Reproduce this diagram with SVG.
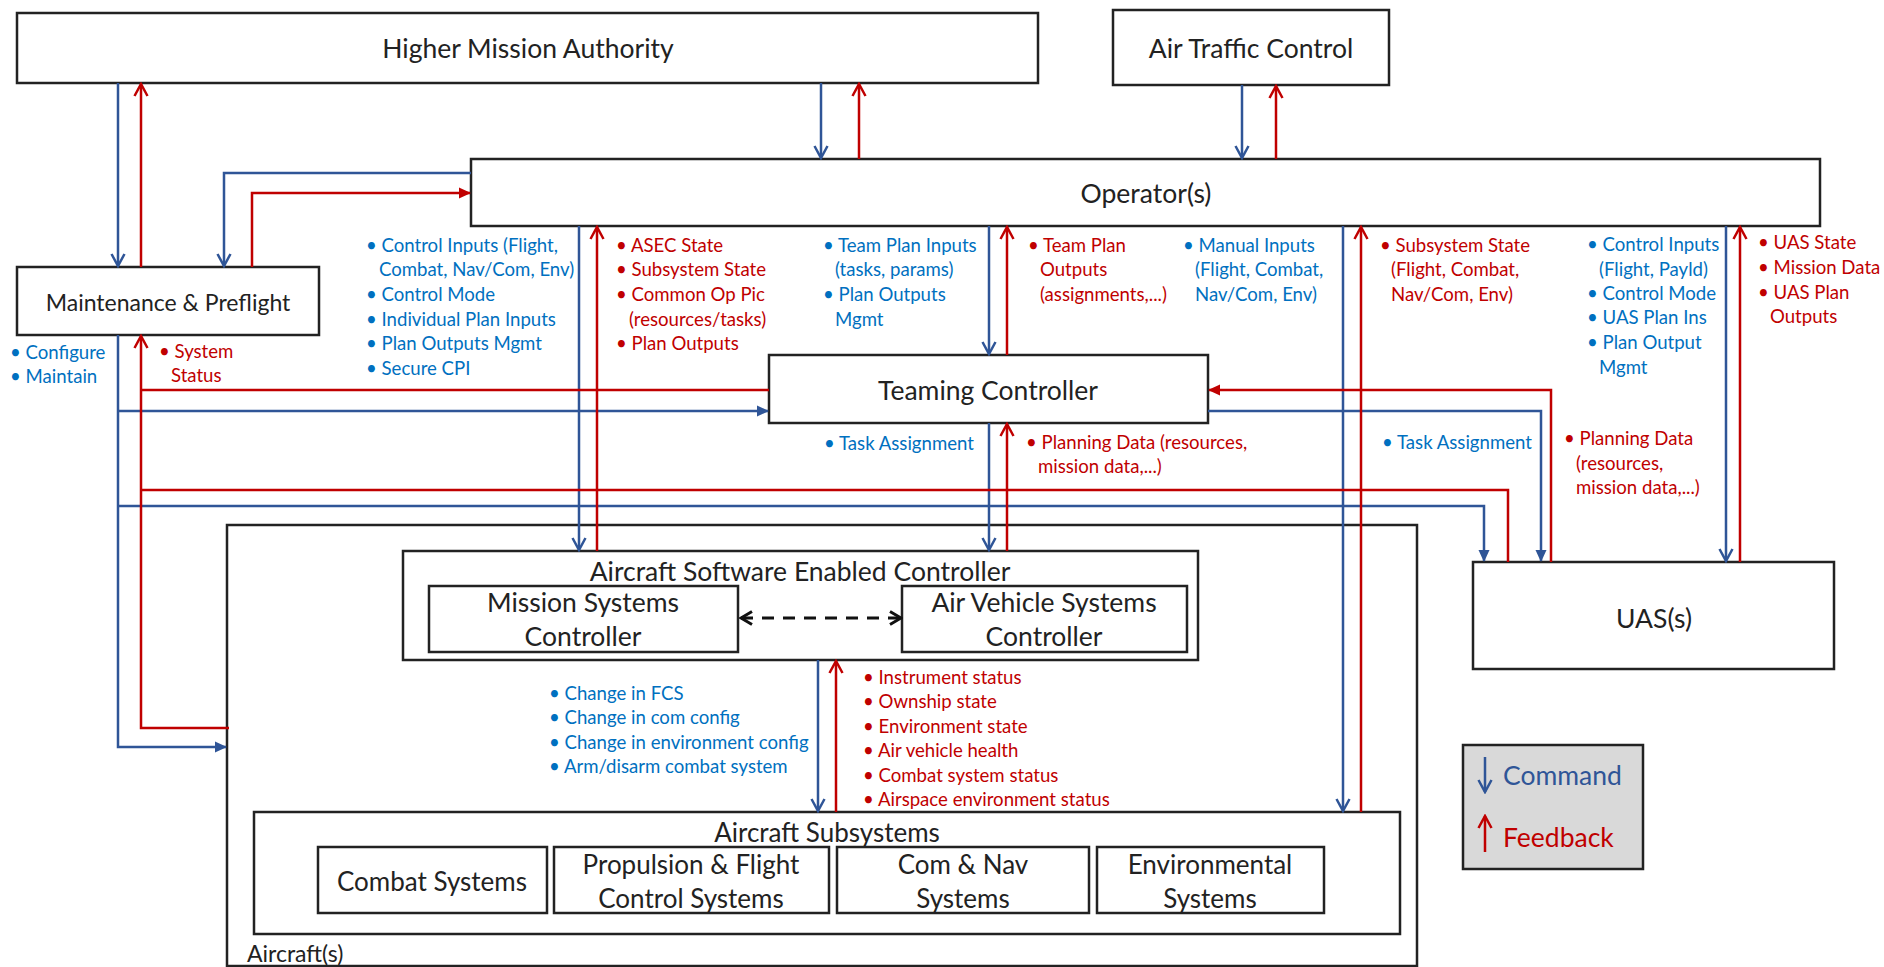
<svg xmlns="http://www.w3.org/2000/svg" width="1884" height="967" viewBox="0 0 1884 967">
<style>
.box{fill:#fff;stroke:#222;stroke-width:2.5}
.lbl{font-family:Lato,"Liberation Sans",sans-serif;fill:#222;text-anchor:middle;dominant-baseline:central}
.big{font-size:26.5px}
.mid{font-size:26px}
.t{font-family:Lato,"Liberation Sans",sans-serif;font-size:18.6px;dominant-baseline:central}
.tb{fill:#0070c0}
.tr{fill:#c00000}
.cb{fill:none;stroke:#2f5597;stroke-width:2.5}
.cr{fill:none;stroke:#c00000;stroke-width:2.5}
</style>
<defs>
<marker id="ab" viewBox="0 0 16 16" refX="14" refY="8" markerWidth="16" markerHeight="16" orient="auto" markerUnits="userSpaceOnUse"><path d="M2,1.5 L14,8 L2,14.5" fill="none" stroke="#2f5597" stroke-width="2.5"/></marker>
<marker id="ar" viewBox="0 0 16 16" refX="14" refY="8" markerWidth="16" markerHeight="16" orient="auto" markerUnits="userSpaceOnUse"><path d="M2,1.5 L14,8 L2,14.5" fill="none" stroke="#c00000" stroke-width="2.5"/></marker>
<marker id="fb" viewBox="0 0 12 12" refX="11" refY="6" markerWidth="12" markerHeight="12" orient="auto" markerUnits="userSpaceOnUse"><path d="M0,0.5 L12,6 L0,11.5 z" fill="#2f5597"/></marker>
<marker id="fr" viewBox="0 0 12 12" refX="11" refY="6" markerWidth="12" markerHeight="12" orient="auto" markerUnits="userSpaceOnUse"><path d="M0,0.5 L12,6 L0,11.5 z" fill="#c00000"/></marker>
<marker id="ak" viewBox="0 0 16 16" refX="14" refY="8" markerWidth="16" markerHeight="16" orient="auto-start-reverse" markerUnits="userSpaceOnUse"><path d="M3,1.5 L14,8 L3,14.5" fill="none" stroke="#111" stroke-width="3"/></marker>
</defs>
<rect width="1884" height="967" fill="#fff"/>

<g id="aircraft"><rect class="box" x="227" y="525" width="1190" height="441" stroke-width="2"/><text class="lbl" x="247" y="953" style="font-size:23px;text-anchor:start">Aircraft(s)</text></g>

<g id="hma"><rect class="box" x="17" y="13" width="1021" height="70"/><text class="lbl big" x="528" y="48">Higher Mission Authority</text></g>
<g id="atc"><rect class="box" x="1113" y="10" width="276" height="75"/><text class="lbl big" x="1251" y="48">Air Traffic Control</text></g>
<g id="operator"><rect class="box" x="471" y="159" width="1349" height="67"/><text class="lbl big" x="1146" y="193">Operator(s)</text></g>
<g id="maint"><rect class="box" x="17" y="267" width="302" height="68"/><text class="lbl" x="168" y="302" style="font-size:23px">Maintenance &amp; Preflight</text></g>
<g id="teaming"><rect class="box" x="769" y="355" width="439" height="68"/><text class="lbl big" x="988" y="390">Teaming Controller</text></g>
<g id="asec"><rect class="box" x="403" y="551" width="795" height="109"/><text class="lbl big" x="800" y="571">Aircraft Software Enabled Controller</text></g>
<g id="msc"><rect class="box" x="429" y="586" width="309" height="66"/><text class="lbl big" x="583" y="602">Mission Systems</text><text class="lbl big" x="583" y="636">Controller</text></g>
<g id="avsc"><rect class="box" x="902" y="586" width="285" height="66"/><text class="lbl big" x="1044" y="602">Air Vehicle Systems</text><text class="lbl big" x="1044" y="636">Controller</text></g>
<g id="uas"><rect class="box" x="1473" y="562" width="361" height="107"/><text class="lbl big" x="1654" y="618">UAS(s)</text></g>
<g id="subsystems"><rect class="box" x="254" y="812" width="1146" height="122"/><text class="lbl mid" x="827" y="832">Aircraft Subsystems</text></g>
<g id="combat"><rect class="box" x="318" y="847" width="229" height="66"/><text class="lbl mid" x="432" y="881">Combat Systems</text></g>
<g id="propulsion"><rect class="box" x="554" y="847" width="275" height="66"/><text class="lbl mid" x="691" y="864">Propulsion &amp; Flight</text><text class="lbl mid" x="691" y="898">Control Systems</text></g>
<g id="comnav"><rect class="box" x="837" y="847" width="252" height="66"/><text class="lbl mid" x="963" y="864">Com &amp; Nav</text><text class="lbl mid" x="963" y="898">Systems</text></g>
<g id="environmental"><rect class="box" x="1097" y="847" width="227" height="66"/><text class="lbl mid" x="1210" y="864">Environmental</text><text class="lbl mid" x="1210" y="898">Systems</text></g>

<g id="legend"><rect x="1463" y="745" width="180" height="124" fill="#d9d9d9" stroke="#222" stroke-width="2.5"/>
<path class="cb" d="M1485,757 V792" marker-end="url(#ab)"/>
<path class="cr" d="M1485,852 V816" marker-end="url(#ar)"/>
<text x="1503" y="775" style="font-family:Lato,'Liberation Sans',sans-serif;font-size:26.5px;fill:#2f5597;dominant-baseline:central">Command</text>
<text x="1503" y="837" style="font-family:Lato,'Liberation Sans',sans-serif;font-size:26.5px;fill:#c00000;dominant-baseline:central">Feedback</text>
</g>

<g id="connectors">
<path class="cb" d="M118,83 V266" marker-end="url(#ab)"/>
<path class="cb" d="M821,83 V158" marker-end="url(#ab)"/>
<path class="cb" d="M1242,85 V158" marker-end="url(#ab)"/>
<path class="cb" d="M471,173 H224 V266" marker-end="url(#ab)"/>
<path class="cb" d="M579,226 V550" marker-end="url(#ab)"/>
<path class="cb" d="M989,226 V354" marker-end="url(#ab)"/>
<path class="cb" d="M989,423 V550" marker-end="url(#ab)"/>
<path class="cb" d="M1343,226 V811" marker-end="url(#ab)"/>
<path class="cb" d="M1726,226 V561" marker-end="url(#ab)"/>
<path class="cb" d="M818,660 V811" marker-end="url(#ab)"/>
<path class="cb" d="M118,335 V747 H226" marker-end="url(#fb)"/>
<path class="cb" d="M118,411 H768" marker-end="url(#fb)"/>
<path class="cb" d="M118,506 H1484 V561" marker-end="url(#fb)"/>
<path class="cb" d="M1208,411 H1541 V561" marker-end="url(#fb)"/>
<path class="cr" d="M141,267 V84" marker-end="url(#ar)"/>
<path class="cr" d="M859,159 V84" marker-end="url(#ar)"/>
<path class="cr" d="M1276,159 V86" marker-end="url(#ar)"/>
<path class="cr" d="M252,267 V193 H470" marker-end="url(#fr)"/>
<path class="cr" d="M597,551 V227" marker-end="url(#ar)"/>
<path class="cr" d="M1007,355 V227" marker-end="url(#ar)"/>
<path class="cr" d="M1007,551 V424" marker-end="url(#ar)"/>
<path class="cr" d="M1361,812 V227" marker-end="url(#ar)"/>
<path class="cr" d="M1740,562 V227" marker-end="url(#ar)"/>
<path class="cr" d="M836,812 V661" marker-end="url(#ar)"/>
<path class="cr" d="M229,728 H141 V336" marker-end="url(#ar)"/>
<path class="cr" d="M769,390 H141"/>
<path class="cr" d="M1508,562 V490 H141"/>
<path class="cr" d="M1551,562 V390 H1209" marker-end="url(#fr)"/>
<path d="M741,618 H901" fill="none" stroke="#111" stroke-width="3" stroke-dasharray="12,9" marker-start="url(#ak)" marker-end="url(#ak)"/>
</g>

<g id="labels">
<text class="t tb" x="10" y="352">• Configure</text>
<text class="t tb" x="10" y="376">• Maintain</text>
<text class="t tr" x="159" y="351">• System</text>
<text class="t tr" x="171" y="375">Status</text>

<text class="t tb" x="366" y="245">• Control Inputs (Flight,</text>
<text class="t tb" x="379" y="269">Combat, Nav/Com, Env)</text>
<text class="t tb" x="366" y="294">• Control Mode</text>
<text class="t tb" x="366" y="319">• Individual Plan Inputs</text>
<text class="t tb" x="366" y="343">• Plan Outputs Mgmt</text>
<text class="t tb" x="366" y="368">• Secure CPI</text>

<text class="t tr" x="616" y="245">• ASEC State</text>
<text class="t tr" x="616" y="269">• Subsystem State</text>
<text class="t tr" x="616" y="294">• Common Op Pic</text>
<text class="t tr" x="629" y="319">(resources/tasks)</text>
<text class="t tr" x="616" y="343">• Plan Outputs</text>

<text class="t tb" x="823" y="245">• Team Plan Inputs</text>
<text class="t tb" x="835" y="269">(tasks, params)</text>
<text class="t tb" x="823" y="294">• Plan Outputs</text>
<text class="t tb" x="835" y="319">Mgmt</text>

<text class="t tr" x="1028" y="245">• Team Plan</text>
<text class="t tr" x="1040" y="269">Outputs</text>
<text class="t tr" x="1040" y="294">(assignments,...)</text>

<text class="t tb" x="1183" y="245">• Manual Inputs</text>
<text class="t tb" x="1195" y="269">(Flight, Combat,</text>
<text class="t tb" x="1195" y="294">Nav/Com, Env)</text>

<text class="t tr" x="1380" y="245">• Subsystem State</text>
<text class="t tr" x="1391" y="269">(Flight, Combat,</text>
<text class="t tr" x="1391" y="294">Nav/Com, Env)</text>

<text class="t tb" x="1587" y="244">• Control Inputs</text>
<text class="t tb" x="1599" y="269">(Flight, Payld)</text>
<text class="t tb" x="1587" y="293">• Control Mode</text>
<text class="t tb" x="1587" y="317">• UAS Plan Ins</text>
<text class="t tb" x="1587" y="342">• Plan Output</text>
<text class="t tb" x="1599" y="367">Mgmt</text>

<text class="t tr" x="1758" y="242">• UAS State</text>
<text class="t tr" x="1758" y="267">• Mission Data</text>
<text class="t tr" x="1758" y="292">• UAS Plan</text>
<text class="t tr" x="1770" y="316">Outputs</text>

<text class="t tb" x="824" y="443">• Task Assignment</text>
<text class="t tr" x="1026" y="442">• Planning Data (resources,</text>
<text class="t tr" x="1038" y="466">mission data,...)</text>

<text class="t tb" x="1382" y="442">• Task Assignment</text>
<text class="t tr" x="1564" y="438">• Planning Data</text>
<text class="t tr" x="1576" y="463">(resources,</text>
<text class="t tr" x="1576" y="487">mission data,...)</text>

<text class="t tb" x="549" y="693">• Change in FCS</text>
<text class="t tb" x="549" y="717">• Change in com config</text>
<text class="t tb" x="549" y="742">• Change in environment config</text>
<text class="t tb" x="549" y="766">• Arm/disarm combat system</text>

<text class="t tr" x="863" y="677">• Instrument status</text>
<text class="t tr" x="863" y="701">• Ownship state</text>
<text class="t tr" x="863" y="726">• Environment state</text>
<text class="t tr" x="863" y="750">• Air vehicle health</text>
<text class="t tr" x="863" y="775">• Combat system status</text>
<text class="t tr" x="863" y="799">• Airspace environment status</text>
</g>
</svg>
